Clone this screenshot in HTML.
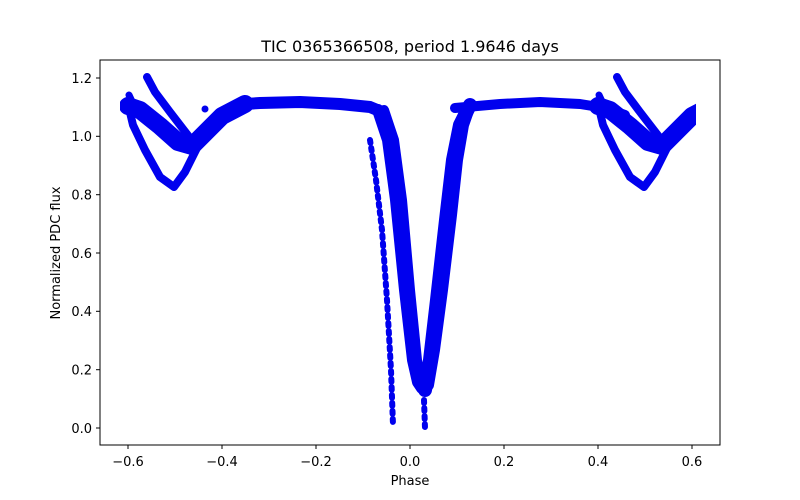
<!DOCTYPE html>
<html><head><meta charset="utf-8"><style>
body{margin:0;background:#fff;}
svg{display:block;font-family:"DejaVu Sans","Liberation Sans",sans-serif;}
</style></head><body>
<svg width="800" height="500" viewBox="0 0 800 500">
<rect width="800" height="500" fill="#fff"/>
<defs><clipPath id="c"><rect x="100" y="60" width="620" height="385"/></clipPath>
<clipPath id="cl"><rect x="120" y="60" width="140" height="385"/></clipPath>
<clipPath id="cr"><rect x="590" y="60" width="106" height="385"/></clipPath>
<g id="sec" fill="none" stroke="#0000ee" stroke-linecap="round" stroke-linejoin="round">
 <path d="M128,104 L133,125 L145,150 L160,177 L174,187 L185,172 L195,152 L205,132" stroke-width="8"/>
 <path d="M128,106 L140,110 L160,126 L178,142 L192,146 L205,133 L222,116 L245,104" stroke-width="18"/>
 <path d="M147,77 L155,92 L170,112 L190,138" stroke-width="8"/>
 <path d="M129,95 L135,108" stroke-width="7"/>
</g></defs>
<g clip-path="url(#c)">
<g clip-path="url(#cl)"><use href="#sec"/></g>
<g clip-path="url(#cr)"><use href="#sec" transform="translate(470,0)"/></g>
<g fill="none" stroke="#0000ee" stroke-linecap="round" stroke-linejoin="round">
 <path d="M225,112 L245,104 L260,103 L300,102 L340,104 L370,107 L382,112" stroke-width="12"/>
 <path d="M455,108 L500,104 L540,102 L580,104 L605,108 L625,115" stroke-width="10"/>
 <path d="M378,110 L388,140 L396,200 L405,290 L413,360 L418,382 L422,388" stroke-width="12"/>
 <path d="M384,110 L394,140 L402,200 L410,290 L417,360 L421,382 L424,390" stroke-width="10"/>
 <path d="M425,390 L430,360 L437,300 L446,220 L453,160 L460,125 L470,105" stroke-width="14"/>
 <path d="M428,385 L434,350 L442,290 L451,215 L457,160 L463,125 L470,105" stroke-width="12"/>
 <path d="M370,140 L376,180 L382,230 L387,300 L391,370 L393,425" stroke-width="6" stroke-dasharray="3 5"/>
 <path d="M424,400 L425,428" stroke-width="6" stroke-dasharray="3 5"/>
</g>
<circle cx="205" cy="109" r="3.5" fill="#0000ee"/>
</g>
<rect x="100" y="60" width="620" height="385" fill="none" stroke="#000" stroke-width="1"/>
<g stroke="#000" stroke-width="1">
 <line x1="128" y1="445" x2="128" y2="449"/><line x1="222" y1="445" x2="222" y2="449"/>
 <line x1="316" y1="445" x2="316" y2="449"/><line x1="410" y1="445" x2="410" y2="449"/>
 <line x1="504" y1="445" x2="504" y2="449"/><line x1="598" y1="445" x2="598" y2="449"/>
 <line x1="692" y1="445" x2="692" y2="449"/>
 <line x1="96" y1="428" x2="100" y2="428"/><line x1="96" y1="369.7" x2="100" y2="369.7"/>
 <line x1="96" y1="311.3" x2="100" y2="311.3"/><line x1="96" y1="253" x2="100" y2="253"/>
 <line x1="96" y1="194.7" x2="100" y2="194.7"/><line x1="96" y1="136.3" x2="100" y2="136.3"/>
 <line x1="96" y1="78" x2="100" y2="78"/>
</g>
<g font-size="13" text-anchor="middle" fill="#000">
 <text x="128" y="466">−0.6</text><text x="222" y="466">−0.4</text><text x="316" y="466">−0.2</text>
 <text x="410" y="466">0.0</text><text x="504" y="466">0.2</text><text x="598" y="466">0.4</text><text x="692" y="466">0.6</text>
 <text x="410" y="485">Phase</text>
</g>
<g font-size="13" text-anchor="end" fill="#000">
 <text x="92" y="433">0.0</text><text x="92" y="374.5">0.2</text><text x="92" y="316">0.4</text>
 <text x="92" y="258">0.6</text><text x="92" y="199.5">0.8</text><text x="92" y="141">1.0</text><text x="92" y="83">1.2</text>
</g>
<text x="60" y="253" font-size="13" text-anchor="middle" transform="rotate(-90 60 253)">Normalized PDC flux</text>
<text x="410" y="52" font-size="16" text-anchor="middle">TIC 0365366508, period 1.9646 days</text>
</svg>
</body></html>
